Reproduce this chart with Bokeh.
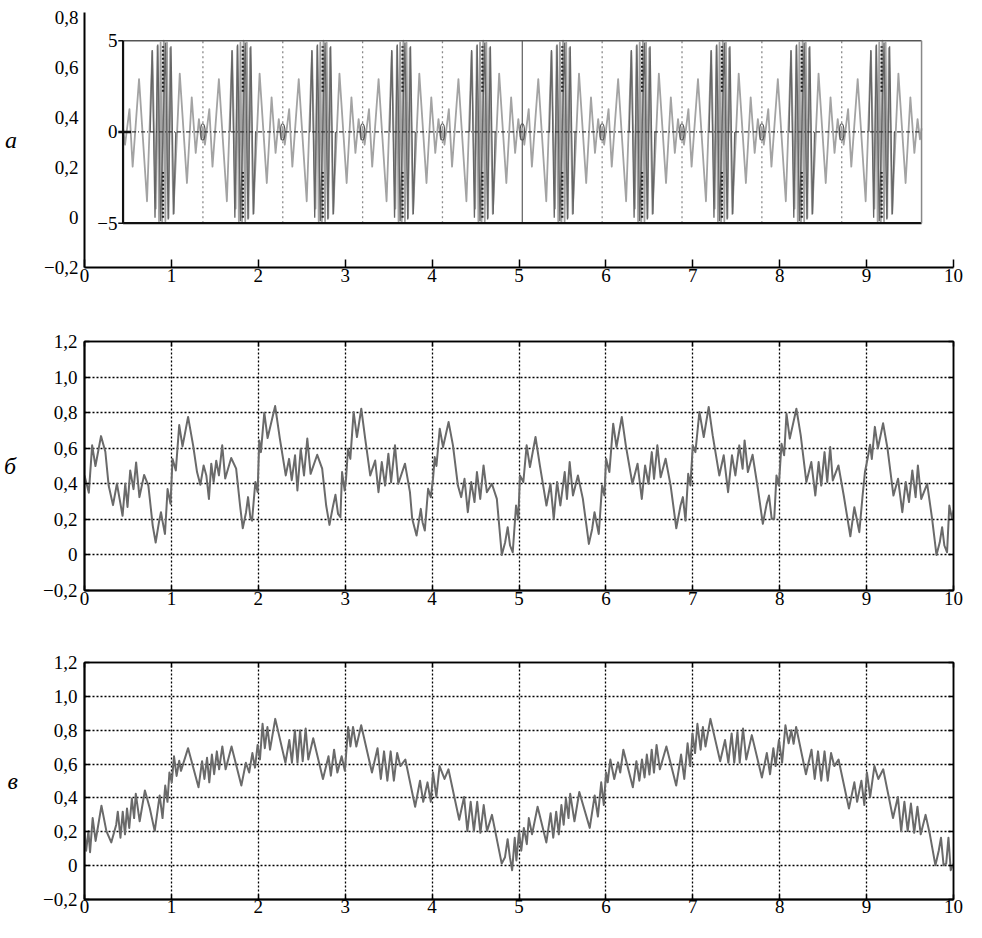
from bokeh.plotting import figure
from bokeh.layouts import column
from bokeh.models import Range1d, LinearAxis, FixedTicker, CustomJSTickFormatter
from bokeh.embed import file_html
from bokeh.resources import INLINE
from bokeh.core.properties import value

FONT = "Liberation Serif"
TICK_SIZE = "19px"
W = 972

# ---------------- data ----------------
A_X_TICKS = list(range(0, 11))
A_Y_TICKS = [-0.2, 0.0, 0.2, 0.4, 0.6, 0.8]
BC_X_TICKS = list(range(0, 11))
BC_Y_TICKS = [-0.2, 0.0, 0.2, 0.4, 0.6, 0.8, 1.0, 1.2]
GRID_X = [1, 2, 3, 4, 5, 6, 7, 8, 9]
GRID_Y = [0.0, 0.2, 0.4, 0.6, 0.8, 1.0]
PANEL_LABELS = ["а", "б", "в"]

# inset of panel а (its own scale: 0..10 by -5..5)
INNER_X = [0, 10]
INNER_Y = [-5, 5]
INNER_Y_LABELS = ["5", "0", "\u22125"]
INNER_Y_LABEL_POS = [5, 0, -5]
INNER_GRID_X = [1, 2, 3, 4, 6, 7, 8, 9]
INNER_SOLID_X = [5]
A_PERIOD_START = [0, 1, 2, 3, 4, 5, 6, 7, 8, 9]
A_LOOPS_X = [1, 2, 3, 4, 5, 6, 7, 8, 9]
# one observed period of the inset signal (offset in period, value)
PA_U = [0.000, 0.025, 0.080, 0.120, 0.200, 0.300, 0.366, 0.410, 0.430, 0.450, 0.470, 0.490,
        0.510, 0.530, 0.550, 0.570, 0.590, 0.630, 0.710, 0.800, 0.860, 0.910, 0.950, 0.980]
PA_V = [0.2, -0.7, 1.25, -1.9, 2.9, -3.8, 4.4, -4.2, 4.7, -4.9, 4.9, -5.0,
        5.0, -4.9, 4.9, -4.7, 4.6, -4.5, 3.2, -2.8, 1.9, -1.15, 0.7, -0.4]
# darker spikes around the middle of each period
DK_U = [0.34, 0.365, 0.400, 0.435, 0.470, 0.530, 0.565, 0.600, 0.635, 0.660]
DK_V = [0.0, 4.5, -4.7, 4.8, -4.9, 4.9, -4.8, 4.7, -4.5, 0.0]
DOT_V = [[2.2, 4.7], [-4.7, -2.2]]

# panel б
BX0 = [0.000, 0.050, 0.088, 0.126, 0.190, 0.240, 0.278, 0.328, 0.373, 0.404, 0.438, 0.469, 0.495, 0.526,
       0.564, 0.594, 0.632, 0.686, 0.735, 0.785, 0.819, 0.857, 0.880, 0.900, 0.926, 0.956, 0.990]
BY0 = [0.447, 0.350, 0.616, 0.500, 0.668, 0.580, 0.390, 0.280, 0.400, 0.315, 0.220, 0.400, 0.270, 0.475,
       0.370, 0.520, 0.325, 0.450, 0.390, 0.165, 0.070, 0.184, 0.240, 0.184, 0.118, 0.370, 0.287]
BX1 = [1.013, 1.051, 1.090, 1.128, 1.192, 1.250, 1.295, 1.333, 1.371, 1.402, 1.432, 1.459, 1.486, 1.516,
       1.547, 1.585, 1.619, 1.688, 1.745, 1.790, 1.821, 1.859, 1.882, 1.909, 1.928, 1.966, 1.992]
BY1 = [0.540, 0.475, 0.730, 0.610, 0.776, 0.616, 0.466, 0.394, 0.503, 0.447, 0.315, 0.513, 0.410, 0.530,
       0.447, 0.616, 0.430, 0.545, 0.485, 0.278, 0.150, 0.240, 0.325, 0.210, 0.193, 0.410, 0.353]
BX2 = [2.011, 2.030, 2.069, 2.107, 2.194, 2.248, 2.316, 2.354, 2.385, 2.423, 2.450, 2.488, 2.526,
       2.564, 2.602, 2.678, 2.735, 2.781, 2.819, 2.857, 2.888, 2.918, 2.945, 2.964, 2.994]
BY2 = [0.644, 0.578, 0.800, 0.657, 0.837, 0.654, 0.447, 0.540, 0.420, 0.560, 0.362, 0.597, 0.447,
       0.654, 0.456, 0.563, 0.485, 0.278, 0.169, 0.268, 0.338, 0.230, 0.212, 0.466, 0.362]
BX3 = [3.010, 3.032, 3.059, 3.097, 3.135, 3.185, 3.230, 3.288, 3.345, 3.383, 3.421, 3.459, 3.497,
       3.528, 3.573, 3.611, 3.688, 3.745, 3.771, 3.821, 3.870, 3.890, 3.916, 3.954, 3.985]
BY3 = [0.430, 0.597, 0.540, 0.804, 0.663, 0.822, 0.654, 0.447, 0.531, 0.353, 0.522, 0.390, 0.569,
       0.409, 0.616, 0.400, 0.513, 0.353, 0.203, 0.109, 0.259, 0.184, 0.137, 0.372, 0.325]
BX4 = [4.011, 4.030, 4.050, 4.088, 4.126, 4.190, 4.240, 4.297, 4.335, 4.373, 4.411, 4.450, 4.488,
       4.516, 4.554, 4.592, 4.630, 4.688, 4.745, 4.802, 4.840, 4.870, 4.897, 4.928, 4.966, 4.992]
BY4 = [0.430, 0.550, 0.500, 0.710, 0.607, 0.747, 0.616, 0.390, 0.325, 0.428, 0.240, 0.410, 0.297,
       0.466, 0.315, 0.503, 0.353, 0.400, 0.315, 0.000, 0.070, 0.156, 0.053, 0.015, 0.278, 0.203]
BX5 = [5.011, 5.050, 5.088, 5.126, 5.190, 5.240, 5.316, 5.362, 5.400, 5.438, 5.476, 5.526,
       5.552, 5.583, 5.621, 5.678, 5.735, 5.804, 5.842, 5.869, 5.899, 5.918, 5.956, 5.983]
BY5 = [0.447, 0.410, 0.616, 0.494, 0.663, 0.503, 0.278, 0.400, 0.203, 0.410, 0.278, 0.466,
       0.315, 0.522, 0.334, 0.447, 0.315, 0.062, 0.146, 0.240, 0.165, 0.118, 0.390, 0.334]
BX6 = [6.002, 6.040, 6.084, 6.122, 6.183, 6.229, 6.305, 6.364, 6.413, 6.451, 6.490, 6.528,
       6.554, 6.592, 6.630, 6.687, 6.745, 6.810, 6.859, 6.886, 6.916, 6.947, 6.973]
BY6 = [0.541, 0.466, 0.738, 0.607, 0.776, 0.616, 0.400, 0.513, 0.315, 0.503, 0.400, 0.578,
       0.428, 0.616, 0.437, 0.541, 0.390, 0.150, 0.278, 0.325, 0.193, 0.456, 0.390]
BX7 = [7.000, 7.030, 7.076, 7.126, 7.183, 7.229, 7.305, 7.356, 7.406, 7.451, 7.490, 7.535,
       7.573, 7.596, 7.634, 7.688, 7.749, 7.806, 7.850, 7.877, 7.908, 7.937, 7.963, 7.990]
BY7 = [0.616, 0.578, 0.804, 0.663, 0.832, 0.672, 0.447, 0.560, 0.353, 0.560, 0.447, 0.616,
       0.485, 0.644, 0.466, 0.563, 0.372, 0.175, 0.287, 0.334, 0.203, 0.203, 0.447, 0.390]
BX8 = [8.021, 8.051, 8.078, 8.116, 8.192, 8.242, 8.307, 8.364, 8.410, 8.448, 8.478, 8.516,
       8.547, 8.581, 8.611, 8.676, 8.737, 8.813, 8.859, 8.886, 8.916, 8.954, 8.981]
BY8 = [0.625, 0.560, 0.794, 0.654, 0.822, 0.672, 0.410, 0.522, 0.334, 0.522, 0.390, 0.578,
       0.410, 0.607, 0.419, 0.503, 0.334, 0.105, 0.268, 0.203, 0.128, 0.334, 0.466]
BX9 = [9.011, 9.040, 9.060, 9.095, 9.130, 9.190, 9.240, 9.309, 9.362, 9.411, 9.450, 9.488, 9.526,
       9.564, 9.590, 9.629, 9.697, 9.754, 9.804, 9.842, 9.869, 9.895, 9.926, 9.952, 9.983, 10.000]
BY9 = [0.541, 0.620, 0.540, 0.720, 0.600, 0.740, 0.600, 0.334, 0.428, 0.240, 0.410, 0.297, 0.475,
       0.325, 0.503, 0.315, 0.400, 0.203, 0.000, 0.071, 0.156, 0.053, 0.015, 0.278, 0.203, 0.250]

# panel в
CX0 = [0.000, 0.019, 0.045, 0.064, 0.094, 0.128, 0.195, 0.252, 0.308, 0.365, 0.383, 0.414, 0.440, 0.466,
       0.489, 0.515, 0.545, 0.571, 0.590, 0.635, 0.695, 0.752, 0.808, 0.865, 0.898, 0.929, 0.955, 0.977]
CY0 = [0.204, 0.088, 0.204, 0.079, 0.281, 0.146, 0.354, 0.204, 0.137, 0.242, 0.319, 0.165, 0.319, 0.185,
       0.338, 0.223, 0.396, 0.281, 0.425, 0.262, 0.444, 0.338, 0.204, 0.415, 0.281, 0.473, 0.377, 0.550]
CX1 = [1.004, 1.030, 1.060, 1.090, 1.110, 1.192, 1.312, 1.353, 1.380, 1.410, 1.436, 1.466,
       1.492, 1.523, 1.549, 1.586, 1.624, 1.692, 1.805, 1.857, 1.895, 1.932, 1.962, 1.992]
CY1 = [0.492, 0.646, 0.530, 0.620, 0.560, 0.694, 0.463, 0.617, 0.512, 0.637, 0.492, 0.656,
       0.540, 0.675, 0.569, 0.704, 0.569, 0.704, 0.473, 0.608, 0.550, 0.665, 0.579, 0.713]
CX2 = [2.019, 2.049, 2.075, 2.105, 2.135, 2.195, 2.312, 2.357, 2.387, 2.421, 2.451, 2.481,
       2.511, 2.545, 2.575, 2.632, 2.744, 2.808, 2.835, 2.872, 2.910, 2.959, 2.996]
CY2 = [0.627, 0.838, 0.694, 0.819, 0.685, 0.867, 0.608, 0.742, 0.608, 0.800, 0.608, 0.800,
       0.617, 0.810, 0.627, 0.752, 0.512, 0.646, 0.531, 0.685, 0.550, 0.646, 0.560]
CX3 = [3.034, 3.060, 3.090, 3.128, 3.184, 3.308, 3.372, 3.410, 3.447, 3.485,
       3.523, 3.560, 3.598, 3.635, 3.692, 3.805, 3.861, 3.898, 3.947, 3.985]
CY3 = [0.819, 0.704, 0.819, 0.704, 0.829, 0.550, 0.694, 0.512, 0.675, 0.502,
       0.675, 0.502, 0.665, 0.588, 0.627, 0.348, 0.502, 0.377, 0.492, 0.377]
CX4 = [4.011, 4.049, 4.086, 4.143, 4.188, 4.312, 4.368, 4.406, 4.444, 4.481, 4.519,
       4.556, 4.594, 4.632, 4.689, 4.801, 4.839, 4.869, 4.895, 4.921, 4.951, 4.970]
CY4 = [0.550, 0.406, 0.588, 0.512, 0.569, 0.271, 0.406, 0.204, 0.377, 0.204, 0.377,
       0.194, 0.358, 0.204, 0.300, 0.012, 0.050, 0.156, 0.050, -0.027, 0.165, 0.031]
CX5 = [5.000, 5.026, 5.056, 5.090, 5.113, 5.150, 5.214, 5.315, 5.364, 5.394, 5.428, 5.458,
       5.488, 5.514, 5.540, 5.570, 5.589, 5.638, 5.694, 5.814, 5.871, 5.908, 5.946, 5.976]
CY5 = [0.204, 0.088, 0.223, 0.127, 0.281, 0.185, 0.348, 0.137, 0.310, 0.165, 0.319, 0.185,
       0.358, 0.242, 0.396, 0.281, 0.425, 0.262, 0.435, 0.223, 0.415, 0.290, 0.492, 0.358]
CX6 = [6.002, 6.021, 6.051, 6.096, 6.140, 6.165, 6.201, 6.310, 6.351, 6.385, 6.415, 6.445,
       6.471, 6.501, 6.527, 6.553, 6.583, 6.621, 6.696, 6.809, 6.865, 6.902, 6.940, 6.970]
CY6 = [0.550, 0.492, 0.627, 0.512, 0.610, 0.550, 0.685, 0.463, 0.617, 0.502, 0.627, 0.521,
       0.656, 0.538, 0.685, 0.550, 0.713, 0.569, 0.704, 0.473, 0.656, 0.512, 0.723, 0.588]
CX7 = [6.996, 7.026, 7.053, 7.090, 7.116, 7.146, 7.203, 7.315, 7.371, 7.409, 7.447, 7.477,
       7.514, 7.540, 7.578, 7.615, 7.679, 7.795, 7.852, 7.889, 7.927, 7.953, 7.991]
CY7 = [0.781, 0.665, 0.838, 0.685, 0.819, 0.704, 0.867, 0.617, 0.742, 0.608, 0.781, 0.608,
       0.790, 0.608, 0.810, 0.627, 0.771, 0.521, 0.665, 0.540, 0.694, 0.588, 0.742]
CX8 = [8.028, 8.066, 8.103, 8.133, 8.160, 8.189, 8.302, 8.366, 8.403, 8.441, 8.478,
       8.516, 8.553, 8.591, 8.628, 8.677, 8.797, 8.859, 8.891, 8.940, 8.974]
CY8 = [0.608, 0.829, 0.723, 0.800, 0.720, 0.819, 0.540, 0.685, 0.512, 0.675, 0.502,
       0.675, 0.502, 0.665, 0.588, 0.627, 0.338, 0.492, 0.377, 0.502, 0.358]
CX9 = [9.004, 9.041, 9.090, 9.135, 9.191, 9.304, 9.360, 9.398, 9.435, 9.473, 9.510, 9.548,
       9.585, 9.623, 9.679, 9.728, 9.792, 9.830, 9.856, 9.886, 9.916, 9.942, 9.968, 10.000]
CY9 = [0.550, 0.406, 0.588, 0.512, 0.569, 0.281, 0.406, 0.204, 0.377, 0.204, 0.367, 0.194,
       0.348, 0.185, 0.300, 0.185, 0.002, 0.088, 0.165, 0.002, 0.012, 0.165, -0.027, 0.012]

BX = BX0 + BX1 + BX2 + BX3 + BX4 + BX5 + BX6 + BX7 + BX8 + BX9
BY = BY0 + BY1 + BY2 + BY3 + BY4 + BY5 + BY6 + BY7 + BY8 + BY9
CX = CX0 + CX1 + CX2 + CX3 + CX4 + CX5 + CX6 + CX7 + CX8 + CX9
CY = CY0 + CY1 + CY2 + CY3 + CY4 + CY5 + CY6 + CY7 + CY8 + CY9

# ---------------- helpers ----------------
XFMT = "return tick.toFixed(0);"
YFMT = ("if (Math.abs(tick) < 1e-9) { return '0'; } "
        "var s = Math.abs(tick).toFixed(1).replace('.', ','); "
        "return (tick < 0 ? '\u2212' : '') + s;")
NOFMT = "return '';"


def style_axis(ax, ticks, fmt, tick_in, standoff, line_w=2.0, show_ticks=True):
    ax.ticker = FixedTicker(ticks=ticks)
    ax.formatter = CustomJSTickFormatter(code=fmt)
    ax.major_label_text_font = FONT
    ax.major_label_text_font_size = TICK_SIZE
    ax.major_label_text_color = "black"
    ax.major_tick_in = tick_in
    ax.major_tick_out = 0
    ax.major_tick_line_width = 1.5
    ax.major_tick_line_color = "black" if show_ticks else None
    ax.minor_tick_line_color = None
    ax.axis_line_width = line_w
    ax.axis_line_color = "black"
    ax.major_label_standoff = standoff


def hidden_axis(ticks):
    ax = LinearAxis()
    style_axis(ax, ticks, NOFMT, 5, 0, line_w=1.5)
    ax.major_label_text_font_size = "0px"
    return ax


def panel_label(ax, text, standoff):
    ax.axis_label = text
    ax.axis_label_orientation = "horizontal"
    ax.axis_label_text_font = FONT
    ax.axis_label_text_font_style = "italic"
    ax.axis_label_text_font_size = "24px"
    ax.axis_label_text_color = "black"
    ax.axis_label_standoff = standoff


def new_fig(height, yr, mbl, mbr, mbt, mbb):
    p = figure(width=W, height=height, x_range=Range1d(0, 10), y_range=Range1d(*yr),
               output_backend="svg", toolbar_location=None,
               min_border_left=mbl, min_border_right=mbr,
               min_border_top=mbt, min_border_bottom=mbb)
    p.background_fill_color = "white"
    p.border_fill_color = "white"
    return p


# ---------------- panel а ----------------
pa = new_fig(302, (-0.2, 0.82), 81, 19, 12, 35)
pa.outline_line_color = None
pa.grid.visible = False
style_axis(pa.xaxis[0], A_X_TICKS, XFMT, 8, 1)
style_axis(pa.yaxis[0], A_Y_TICKS, YFMT, 0, 6, show_ticks=False)
panel_label(pa.yaxis[0], PANEL_LABELS[0], 24)
pa.extra_x_ranges = {"ix": Range1d(-0.483, 10.40)}
pa.extra_y_ranges = {"iy": Range1d(-7.43, 6.55)}
kw = dict(x_range_name="ix", y_range_name="iy")

n = len(INNER_GRID_X)
pa.segment(x0=INNER_GRID_X, y0=[INNER_Y[0]] * n, x1=INNER_GRID_X, y1=[INNER_Y[1]] * n,
           line_color="#8a8a8a", line_dash="2 3", line_width=1.3, **kw)
pa.segment(x0=INNER_SOLID_X, y0=[INNER_Y[0]], x1=INNER_SOLID_X, y1=[INNER_Y[1]],
           line_color="#6a6a6a", line_width=1.3, **kw)

ax_pts, ay_pts = [], []
for s in A_PERIOD_START:
    for u, v in zip(PA_U, PA_V):
        ax_pts.append(s + u)
        ay_pts.append(v)
ax_pts.append(INNER_X[1])
ay_pts.append(0.2)
pa.line(ax_pts, ay_pts, line_color="#a3a3a3", line_width=1.8, line_join="round", **kw)

dxs = [[s + u for u in DK_U] for s in A_PERIOD_START]
dys = [list(DK_V) for s in A_PERIOD_START]
pa.multi_line(dxs, dys, line_color="#666666", line_width=1.3, **kw)

cx = [s + 0.5 for s in A_PERIOD_START]
for lo, hi in DOT_V:
    pa.segment(x0=cx, y0=[lo] * len(cx), x1=cx, y1=[hi] * len(cx),
               line_color="#222222", line_dash="2 2", line_width=2.2, **kw)

pa.ellipse(x=A_LOOPS_X, y=[0] * len(A_LOOPS_X), width=0.055, height=0.9,
           fill_color=None, line_color="#555555", line_width=1.2, **kw)

pa.segment(x0=[INNER_X[0]], y0=[0], x1=[INNER_X[1]], y1=[0],
           line_color="#333333", line_dash="4 2 1 2", line_width=1.2, **kw)

# inset frame
pa.segment(x0=[INNER_X[0], INNER_X[0]], y0=[INNER_Y[1], INNER_Y[0]],
           x1=[INNER_X[1], INNER_X[1]], y1=[INNER_Y[1], INNER_Y[0]],
           line_color=["#555555", "#111111"], line_width=[1.6, 2.2], **kw)
pa.segment(x0=[INNER_X[0], INNER_X[1]], y0=[INNER_Y[0], INNER_Y[0]],
           x1=[INNER_X[0], INNER_X[1]], y1=[INNER_Y[1], INNER_Y[1]],
           line_color=["#111111", "#888888"], line_width=[2.2, 1.5], **kw)
pa.segment(x0=[-0.06] * 3, y0=INNER_Y_LABEL_POS, x1=[0.0, 0.1, 0.0], y1=INNER_Y_LABEL_POS,
           line_color="#111111", line_width=[1.5, 2.5, 1.5], **kw)
pa.text(x=[-0.07] * 3, y=INNER_Y_LABEL_POS, text=INNER_Y_LABELS, text_font=value(FONT),
        text_font_size="19px", text_align="right", text_baseline="middle",
        text_color="black", **kw)


# ---------------- panels б and в ----------------
def grid_panel(height, mbl, mbr, mbt, mbb, xs, ys, label, lab_standoff, x_standoff):
    p = new_fig(height, (-0.2, 1.2), mbl, mbr, mbt, mbb)
    p.outline_line_color = "black"
    p.outline_line_width = 1.5
    style_axis(p.xaxis[0], BC_X_TICKS, XFMT, 5, x_standoff)
    style_axis(p.yaxis[0], BC_Y_TICKS, YFMT, 5, 7)
    panel_label(p.yaxis[0], label, lab_standoff)
    p.add_layout(hidden_axis(BC_Y_TICKS), "right")
    p.add_layout(hidden_axis(BC_X_TICKS), "above")
    p.xgrid.ticker = FixedTicker(ticks=GRID_X)
    p.ygrid.ticker = FixedTicker(ticks=GRID_Y)
    p.grid.grid_line_color = "black"
    p.grid.grid_line_dash = "2 2"
    p.grid.grid_line_width = 1.3
    p.grid.grid_line_alpha = 1.0
    p.line(xs, ys, line_color="#6a6a6a", line_width=2.0, line_join="round")
    return p


pb = grid_panel(310, 83, 14, 39, 22, BX, BY, PANEL_LABELS[1], 24, 1)
pc = grid_panel(310, 78, 7, 50, 23, CX, CY, PANEL_LABELS[2], 22, 0)

layout = column(pa, pb, pc, spacing=0)
open("out.html", "w").write(file_html(layout, INLINE, "chart"))
